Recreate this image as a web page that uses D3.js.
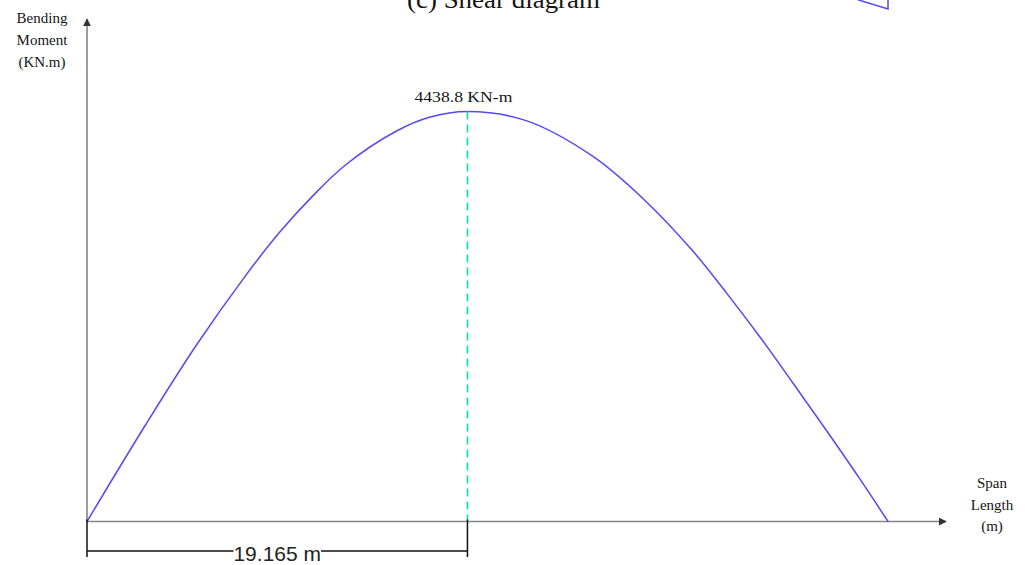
<!DOCTYPE html>
<html>
<head>
<meta charset="utf-8">
<script src="https://cdn.jsdelivr.net/npm/d3@7"></script>
<style>
  body { margin: 0; background: #fff; }
  svg { display: block; }
  .serif { font-family: "Liberation Serif", "Times New Roman", serif; fill: #151515; }
</style>
</head>
<body>
<svg id="chart" width="1025" height="565"></svg>
<script>
// values
const spanX  = [0, 2.96, 5.48, 8.0, 9.68, 11.35, 13.05, 15.57, 17.25, 19.165, 22.12, 25.47, 27.99, 30.51, 32.21, 33.89, 35.56, 37.25, 38.94, 40.35]
const moment = [0, 1050, 1900, 2665, 3125, 3520, 3865, 4225, 4376, 4438.8, 4340, 3955, 3500, 2930, 2475, 2000, 1500, 985, 458, 0]
const spanLength = 40.35
const peakX = 19.165
const peakM = 4438.8
// tail of the shear diagram above, cut off by the top edge
const shearX = [38.83, 40.35, 40.35]
const shearV = [-400, -462, 0]

const yLabel = ["Bending", "Moment", "(KN.m)"]
const xLabel = ["Span", "Length", "(m)"]

const svg = d3.select("#chart")

const x = d3.scaleLinear().domain([0, spanLength]).range([87, 888])
const y = d3.scaleLinear().domain([0, peakM]).range([521.5, 111.5])
const yShear = d3.scaleLinear().domain([0, -462]).range([-60, 9])

const axisColor = "#858585"

// arrow head
svg.append("defs").append("marker")
    .attr("id", "arrow")
    .attr("viewBox", "0 0 10 10")
    .attr("refX", 9).attr("refY", 5)
    .attr("markerWidth", 5).attr("markerHeight", 5)
    .attr("markerUnits", "strokeWidth")
    .attr("orient", "auto")
  .append("path")
    .attr("d", "M0,0 L10,5 L0,10 Z")
    .attr("fill", "#333")

// axes
svg.append("line")
    .attr("x1", x(0)).attr("y1", y(0))
    .attr("x2", x(0)).attr("y2", 19)
    .attr("stroke", axisColor).attr("stroke-width", 1.6)
    .attr("marker-end", "url(#arrow)")

svg.append("line")
    .attr("x1", x(0)).attr("y1", y(0))
    .attr("x2", 946).attr("y2", y(0))
    .attr("stroke", axisColor).attr("stroke-width", 1.6)
    .attr("marker-end", "url(#arrow)")

// axis titles
svg.append("text").attr("class", "serif")
    .attr("text-anchor", "middle")
    .style("font-size", "15px")
  .selectAll("tspan").data(yLabel).join("tspan")
    .attr("x", 42).attr("y", (d, i) => 23 + i * 22)
    .text(d => d)

svg.append("text").attr("class", "serif")
    .attr("text-anchor", "middle")
    .style("font-size", "15px")
  .selectAll("tspan").data(xLabel).join("tspan")
    .attr("x", 992).attr("y", (d, i) => 488 + i * 21.5)
    .text(d => d)

// title of the panel above (cut off in the source too)
svg.append("text").attr("class", "serif")
    .attr("x", 407).attr("y", 8)
    .attr("textLength", 193).attr("lengthAdjust", "spacingAndGlyphs")
    .style("font-size", "25px")
    .text("(c) Shear diagram")

svg.append("path")
    .datum(shearX.map((d, i) => [d, shearV[i]]))
    .attr("d", d3.line().x(d => x(d[0])).y(d => yShear(d[1])))
    .attr("fill", "none").attr("stroke", "#5548f5").attr("stroke-width", 1.5)

// moment curve
const pts = spanX.map((d, i) => [d, moment[i]])
svg.append("path")
    .datum(pts)
    .attr("d", d3.line().x(d => x(d[0])).y(d => y(d[1])).curve(d3.curveCatmullRom.alpha(0.5)))
    .attr("fill", "none")
    .attr("stroke", "#5548f5")
    .attr("stroke-width", 1.5)

// peak marker
svg.append("line")
    .attr("x1", x(peakX)).attr("y1", y(peakM))
    .attr("x2", x(peakX)).attr("y2", y(0))
    .attr("stroke", "#00e2b4").attr("stroke-width", 1.6)
    .attr("stroke-dasharray", "8,5")

svg.append("text").attr("class", "serif")
    .attr("x", x(peakX) - 53).attr("y", 102)
    .attr("textLength", 98).attr("lengthAdjust", "spacingAndGlyphs")
    .style("font-size", "15px")
    .text(`${peakM} KN-m`)

// dimension line
const dimY = 551
const dim = svg.append("g").attr("stroke", "#111").attr("stroke-width", 1.5)
dim.append("line").attr("x1", x(0)).attr("x2", x(0)).attr("y1", y(0) - 2).attr("y2", 557)
dim.append("line").attr("x1", x(peakX)).attr("x2", x(peakX)).attr("y1", y(0) - 2).attr("y2", 557)

const dimText = svg.append("text")
    .attr("x", (x(0) + x(peakX)) / 2).attr("y", 561)
    .attr("text-anchor", "middle")
    .style("font-family", "'Liberation Sans', Arial, sans-serif")
    .style("font-size", "21px")
    .style("fill", "#222")
    .text(`${peakX} m`)

const bb = dimText.node().getBBox()
dim.append("line").attr("x1", x(0)).attr("x2", bb.x).attr("y1", dimY).attr("y2", dimY)
dim.append("line").attr("x1", bb.x + bb.width).attr("x2", x(peakX)).attr("y1", dimY).attr("y2", dimY)
</script>
</body>
</html>
